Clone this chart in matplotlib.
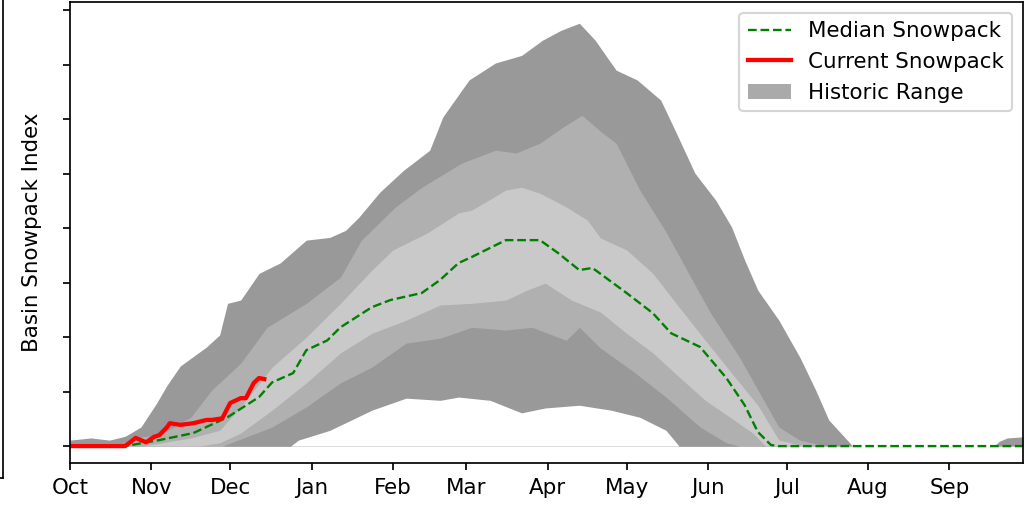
# Basin snowpack chart: historic range bands, median and current year
import matplotlib.pyplot as plt

# water year day (0 = Oct 1) and index values
max_days = [0, 8, 15, 21, 27, 33, 37, 42, 52, 57, 60, 65, 72, 80, 90, 99, 105, 110, 118, 127,
            137, 142, 152, 162, 172, 180, 187, 194, 200, 208, 216, 225, 231, 238, 246, 252,
            257, 262, 270, 278, 284, 289, 297, 298, 352, 354, 357, 363]
max_vals = [0.11, 0.15, 0.11, 0.18, 0.35, 0.79, 1.12, 1.47, 1.82, 2.04, 2.62, 2.68, 3.17, 3.36,
            3.78, 3.83, 3.96, 4.20, 4.66, 5.06, 5.43, 6.04, 6.72, 7.03, 7.17, 7.45, 7.63, 7.76,
            7.45, 6.90, 6.72, 6.35, 5.74, 5.01, 4.51, 4.02, 3.41, 2.86, 2.31, 1.63, 1.03, 0.48,
            0.06, 0.0, 0.0, 0.09, 0.15, 0.17]

p90_days = [0, 18, 22, 27, 34, 46, 54, 65, 75, 90, 103, 111, 124, 134, 149, 162, 170, 179, 187,
            195, 203, 208, 217, 227, 237, 244, 255, 262, 270, 278, 288, 363]
p90_vals = [0.0, 0.0, 0.06, 0.17, 0.20, 0.53, 1.03, 1.52, 2.18, 2.62, 3.10, 3.78, 4.39, 4.75,
            5.19, 5.43, 5.38, 5.56, 5.83, 6.07, 5.74, 5.56, 4.70, 3.93, 3.05, 2.44, 1.63, 1.03,
            0.35, 0.11, 0.0, 0.0]

p70_days = [0, 28, 30, 46, 57, 65, 77, 90, 103, 115, 123, 136, 148, 153, 166, 172, 179, 189, 197,
            202, 212, 222, 232, 242, 252, 262, 270, 278, 285, 363]
p70_vals = [0.0, 0.0, 0.02, 0.15, 0.29, 0.72, 1.45, 2.00, 2.62, 3.23, 3.60, 3.91, 4.28, 4.33,
            4.70, 4.75, 4.64, 4.39, 4.15, 3.82, 3.60, 3.17, 2.55, 1.94, 1.34, 0.75, 0.11, 0.02,
            0.0, 0.0]

p30_days = [0, 49, 57, 65, 77, 90, 103, 115, 128, 141, 153, 166, 174, 181, 191, 202, 212, 222,
            232, 242, 252, 260, 265, 363]
p30_vals = [0.0, 0.0, 0.06, 0.24, 0.66, 1.16, 1.71, 2.07, 2.31, 2.59, 2.62, 2.68, 2.86, 2.99,
            2.68, 2.46, 2.07, 1.71, 1.27, 0.84, 0.51, 0.24, 0.0, 0.0]

p10_days = [0, 58, 77, 90, 103, 115, 128, 141, 153, 166, 176, 189, 194, 202, 214, 227, 240, 250,
            255, 363]
p10_vals = [0.0, 0.0, 0.35, 0.72, 1.16, 1.45, 1.89, 1.98, 2.18, 2.13, 2.18, 1.94, 2.18, 1.80,
            1.39, 0.90, 0.35, 0.06, 0.0, 0.0]

min_days = [0, 84, 87, 99, 115, 128, 141, 148, 160, 172, 181, 194, 206, 217, 227, 232, 363]
min_vals = [0.0, 0.0, 0.11, 0.29, 0.66, 0.88, 0.84, 0.90, 0.84, 0.61, 0.70, 0.75, 0.66, 0.53,
            0.29, 0.0, 0.0]

median_days = [0, 21, 34, 47, 60, 72, 77, 85, 90, 98, 103, 115, 122, 134, 141, 148, 153, 166,
               179, 186, 194, 199, 212, 222, 229, 240, 250, 257, 262, 267, 270, 363]
median_vals = [0.0, 0.0, 0.11, 0.24, 0.53, 0.90, 1.17, 1.34, 1.76, 1.94, 2.18, 2.55, 2.68, 2.81,
               3.05, 3.36, 3.47, 3.78, 3.78, 3.54, 3.23, 3.27, 2.81, 2.44, 2.07, 1.82, 1.25,
               0.75, 0.26, 0.02, 0.0, 0.0]

current_days = [0, 21, 25, 29, 32, 34, 37, 38, 42, 47, 52, 54, 58, 61, 65, 67, 70, 72, 74]
current_vals = [0.0, 0.0, 0.15, 0.07, 0.17, 0.20, 0.35, 0.42, 0.39, 0.42, 0.48, 0.48, 0.51,
                0.79, 0.88, 0.88, 1.16, 1.25, 1.23]

month_starts = [0, 31, 61, 92, 123, 151, 182, 212, 243, 273, 304, 335]
month_labels = ['Oct', 'Nov', 'Dec', 'Jan', 'Feb', 'Mar', 'Apr', 'May', 'Jun', 'Jul', 'Aug', 'Sep']

dark = '#999999'
mid = '#b0b0b0'
light = '#c9c9c9'

fig = plt.figure(figsize=(1025 / 154, 509 / 154), dpi=154)

# leftover edge of a neighbouring panel
ax0 = fig.add_axes([-0.5, 31 / 509, 0.5 + 3 / 1025, 0.99])
ax0.spines['top'].set_visible(False)
ax0.spines['left'].set_visible(False)
ax0.set_xticks([])
ax0.set_yticks([])

ax = fig.add_axes([70 / 1025, 46 / 509, 953 / 1025, 461 / 509])

# bands stacked from the outside in, white under the minimum
ax.fill_between(max_days, max_vals, 0, color=dark, lw=0, label='Historic Range')
ax.fill_between(p90_days, p90_vals, 0, color=mid, lw=0)
ax.fill_between(p70_days, p70_vals, 0, color=light, lw=0)
ax.fill_between(p30_days, p30_vals, 0, color=mid, lw=0)
ax.fill_between(p10_days, p10_vals, 0, color=dark, lw=0)
ax.fill_between(min_days, min_vals, 0, color='white', lw=0)

ax.plot(median_days, median_vals, color='green', ls='--', lw=1.1, label='Median Snowpack')
ax.plot(current_days, current_vals, color='red', lw=2, label='Current Snowpack')

ax.set_xlim(0, 363)
ax.set_ylim(-0.31, 8.15)
ax.set_xticks(month_starts)
ax.set_xticklabels(month_labels)
ax.set_yticks(range(0, 9))
ax.set_yticklabels([])
ax.set_ylabel('Basin Snowpack Index', labelpad=6)

h, l = ax.get_legend_handles_labels()
order = [1, 2, 0]
leg = ax.legend([h[i] for i in order], [l[i] for i in order], loc='upper right')
leg.legend_handles[2].set_color('#aaaaaa')

fig.savefig('out.png', dpi=154)
